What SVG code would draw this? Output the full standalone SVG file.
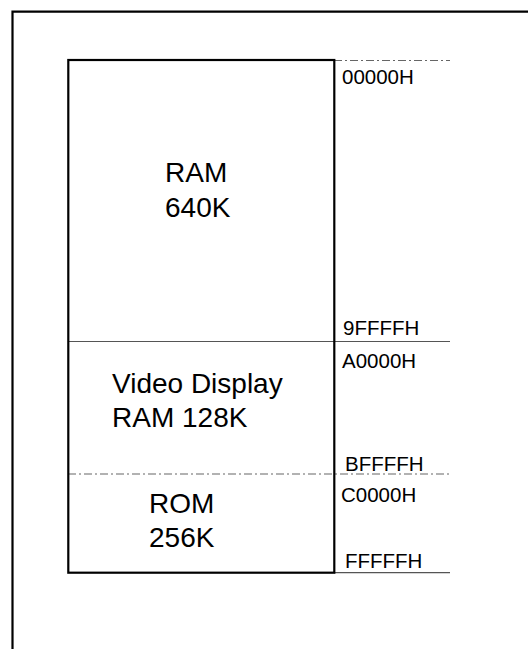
<svg xmlns="http://www.w3.org/2000/svg" width="528" height="649" viewBox="0 0 528 649">
<style>
.frame{fill:none;stroke:#000;stroke-width:2.2}
.div{stroke:#555;stroke-width:1.2;fill:none}
.dash{stroke:#666;stroke-width:1.2;stroke-dasharray:8 3 2 3;fill:none}
.lbl{font-family:"Liberation Sans",Arial,sans-serif;font-size:28px;fill:#000}
.addr{font-family:"Liberation Sans",Arial,sans-serif;font-size:20.5px;fill:#000}
</style>
<rect width="528" height="649" fill="#fff"/>
<g id="page-border">
<path class="frame" d="M12.5,660 V11.7 H540"/>
</g>
<g id="connectors">
<line class="dash" x1="334" y1="60.5" x2="450" y2="60.5"/>
<line class="div" x1="68" y1="341.5" x2="450" y2="341.5"/>
<line class="dash" x1="68" y1="474" x2="450" y2="474"/>
<line class="div" x1="334" y1="572.7" x2="450" y2="572.7"/>
</g>
<g id="memory-block">
<rect class="frame" x="68.3" y="60" width="266" height="512.7"/>
</g>
<g id="ram">
<text class="lbl" x="165" y="182">RAM</text>
<text class="lbl" x="165" y="216.5">640K</text>
</g>
<g id="video">
<text class="lbl" x="112" y="393">Video Display</text>
<text class="lbl" x="112" y="426.5">RAM 128K</text>
</g>
<g id="rom">
<text class="lbl" x="149" y="513">ROM</text>
<text class="lbl" x="149" y="546.5">256K</text>
</g>
<g id="addresses">
<text class="addr" x="342" y="84.3">00000H</text>
<text class="addr" x="343" y="335">9FFFFH</text>
<text class="addr" x="342" y="368">A0000H</text>
<text class="addr" x="345" y="470.5">BFFFFH</text>
<text class="addr" x="341" y="501.5">C0000H</text>
<text class="addr" x="345" y="568">FFFFFH</text>
</g>
</svg>
